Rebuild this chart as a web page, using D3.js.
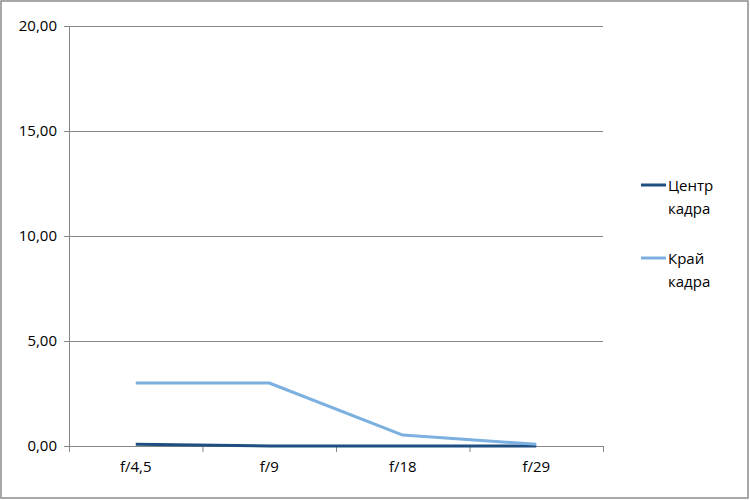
<!DOCTYPE html>
<html>
<head>
<meta charset="utf-8">
<script src="https://cdn.jsdelivr.net/npm/d3@7.9.0/dist/d3.min.js"></script>
<style>
  body { margin: 0; background: #fff; }
  svg text { font-family: "Open Sans", "Noto Sans", sans-serif; fill: #000; }
</style>
</head>
<body>
<svg id="chart"></svg>
<script>
const categories = ["f/4,5", "f/9", "f/18", "f/29"];
const centerValues = [0.08, 0.0, 0.0, 0.0];
const edgeValues = [3.0, 3.0, 0.52, 0.08];
const seriesNames = ["Центр кадра", "Край кадра"];
const yTicks = [0, 5, 10, 15, 20];

const W = 750, H = 500;
const margin = {top: 26, right: 147, bottom: 54, left: 69};
const width = W - margin.left - margin.right, height = H - margin.top - margin.bottom;

const svg = d3.select("#chart").attr("width", W).attr("height", H);

svg.append("rect")
    .attr("x", 1).attr("y", 1).attr("width", W - 3).attr("height", H - 3)
    .attr("fill", "#fff").attr("stroke", "#8c8c8c").attr("stroke-width", 1.5);

const g = svg.append("g").attr("transform", `translate(${margin.left},${margin.top})`);

const x = d3.scaleBand().domain(categories).range([0, width]);
const y = d3.scaleLinear().domain([0, 20]).range([height, 0]);
const fmt = d => d.toFixed(2).replace(".", ",");

// gridlines
g.append("g")
    .selectAll("line")
    .data(yTicks)
    .enter()
    .append("line")
    .attr("x1", -5).attr("x2", width)
    .attr("y1", d => y(d) + 0.5).attr("y2", d => y(d) + 0.5)
    .attr("stroke", "#868686").attr("stroke-width", 1);

// y axis
const yAxis = g.append("g")
    .call(d3.axisLeft(y).tickValues(yTicks).tickFormat(fmt).tickSize(0).tickPadding(12));
yAxis.select(".domain").attr("stroke", "#868686");
yAxis.selectAll("text").style("font-size", "15px");

// x axis
const xAxis = g.append("g").attr("transform", `translate(0,${height})`)
    .call(d3.axisBottom(x).tickSize(0).tickPadding(15));
xAxis.select(".domain").remove();
xAxis.selectAll("text").style("font-size", "15px");
g.append("g")
    .selectAll("line")
    .data(categories.map(c => x(c)).concat([width]))
    .enter()
    .append("line")
    .attr("x1", d => d + 0.5).attr("x2", d => d + 0.5)
    .attr("y1", height).attr("y2", height + 6)
    .attr("stroke", "#868686");

const colors = ["#1f4e80", "#7cb0e0"];
const series = [centerValues, edgeValues];
const line = d3.line()
    .x((d, i) => x(categories[i]) + x.bandwidth() / 2)
    .y(d => y(d));

series.forEach((vals, k) => {
    g.append("path")
        .attr("fill", "none")
        .attr("stroke", colors[k])
        .attr("stroke-width", 3)
        .attr("stroke-linejoin", "round")
        .attr("d", line(vals));
});

// legend
seriesNames.forEach((name, i) => {
    const ly = 185 + i * 73;
    svg.append("line")
        .attr("x1", 641).attr("x2", 666)
        .attr("y1", ly).attr("y2", ly)
        .attr("stroke", colors[i]).attr("stroke-width", 3);
    const words = name.split(" ");
    words.forEach((w, j) => {
        svg.append("text")
            .attr("x", 668).attr("y", ly + 6 + j * 23)
            .style("font-size", "15px")
            .text(w);
    });
});
</script>
</body>
</html>
